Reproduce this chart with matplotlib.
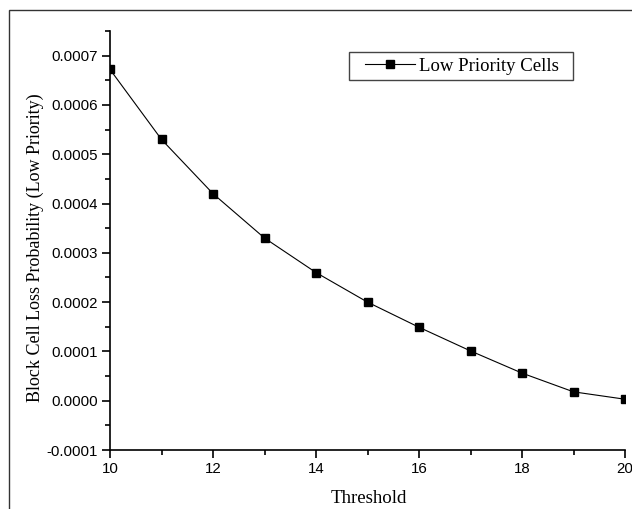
import matplotlib.pyplot as plt
from matplotlib.patches import Rectangle
from matplotlib.ticker import MultipleLocator, FormatStrFormatter

# Data
threshold = [10, 11, 12, 13, 14, 15, 16, 17, 18, 19, 20]
loss_prob = [0.000672, 0.00053, 0.00042, 0.00033, 0.00026, 0.0002,
             0.000149, 0.000101, 0.000056, 0.000018, 0.000003]

W, H = 632, 509
fig = plt.figure(figsize=(W / 100, H / 100), dpi=100)

# outer frame (cropped at right/bottom like the original)
fig.patches.append(Rectangle((9 / W, -0.1), 1.2, 1 - 10 / H + 0.1,
                             transform=fig.transFigure, fill=False,
                             edgecolor='#333333', linewidth=1.0))

ax = fig.add_axes([110 / W, 1 - 450 / H, (625 - 110) / W, (450 - 31) / H])
ax.plot(threshold, loss_prob, color='black', linewidth=0.8,
        marker='s', markersize=6, label='Low Priority Cells')

ax.set_xlim(10, 20)
ax.set_ylim(-0.0001, 0.00075)

for side in ['top', 'right']:
    ax.spines[side].set_visible(False)
ax.spines['left'].set_linewidth(1.2)
ax.spines['bottom'].set_linewidth(1.2)

ax.xaxis.set_major_locator(MultipleLocator(2))
ax.xaxis.set_minor_locator(MultipleLocator(1))
ax.yaxis.set_major_locator(MultipleLocator(0.0001))
ax.yaxis.set_minor_locator(MultipleLocator(0.00005))
ax.yaxis.set_major_formatter(FormatStrFormatter('%.4f'))
ax.tick_params(which='major', direction='out', length=6, width=1.2,
               labelsize=10.8, pad=2.5)
ax.tick_params(which='minor', direction='out', length=3.5, width=1.2)
for lbl in ax.get_xticklabels() + ax.get_yticklabels():
    lbl.set_fontfamily('Liberation Sans')

ax.set_xlabel('Threshold', fontfamily='Liberation Serif', fontsize=13.6)
ax.set_ylabel('Block Cell Loss Probability (Low Priority)',
              fontfamily='Liberation Serif', fontsize=13)
ax.xaxis.set_label_coords(0.502, -0.096)
ax.yaxis.set_label_coords(-0.128, 0.483)

# legend: frame drawn separately to match the wide left padding
fig.patches.append(Rectangle((349 / W, 1 - 80 / H), (573 - 349) / W, 28 / H,
                             transform=fig.transFigure, fill=False,
                             edgecolor='#444444', linewidth=1.0))
leg = ax.legend(loc='center left', bbox_to_anchor=(365 / W, 1 - 66 / H),
                bbox_transform=fig.transFigure,
                prop={'family': 'Liberation Serif', 'size': 13.5},
                frameon=False, handlelength=2.67, handletextpad=0.22,
                borderpad=0, borderaxespad=0, markerscale=0.85)

fig.savefig('out.png', dpi=100)
